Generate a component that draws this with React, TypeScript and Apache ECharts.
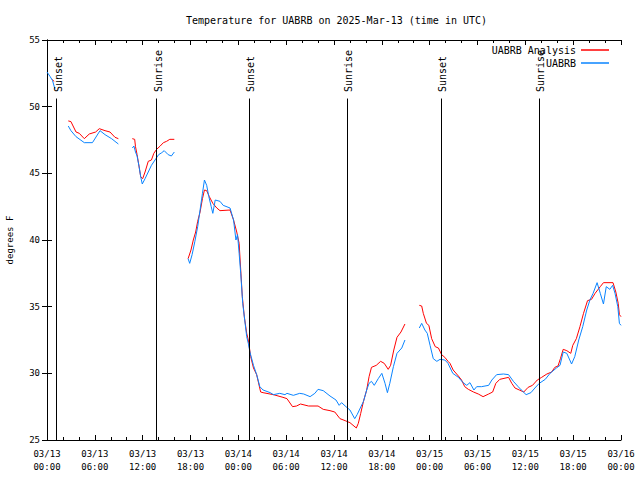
import React, { useEffect, useRef } from "react";
import * as echarts from "echarts";

// Hours since 2025-03-13 00:00 UTC; null marks a gap in the record
const analysisHours: number[] = [
  0.6, 0.9, 1.8,
  2.67, 3.0, 3.64, 4.05, 4.68, 5.3, 6.1, 6.56, 7.28, 7.9, 8.53, 8.95, 9.8,
  10.7, 11.0, 11.1, 11.3, 11.58, 11.75, 12.0, 12.3, 12.7, 13.1, 13.4, 13.75, 14.2, 14.6, 15.0, 15.4, 15.97, 16.8,
  17.7, 18.06, 18.35, 18.65, 18.9, 19.2, 19.5, 19.75, 20.03, 20.36, 20.8, 21.3, 21.7, 22.96, 23.4, 23.8, 24.1, 24.3,
  24.5, 24.75, 25.05, 25.25, 25.55, 25.9, 26.3, 26.8, 27.1, 28.4, 29.6, 30.1, 30.8, 31.3, 31.8, 32.8, 34.0, 34.65,
  35.5, 36.1, 36.75, 37.4, 38.0, 38.8, 39.05, 39.35, 39.7, 40.1, 40.4, 40.7, 41.3, 41.85, 42.3, 42.8, 43.1, 43.5,
  43.9, 44.4, 44.9, 45.8,
  46.7, 47.0, 47.2, 47.6, 47.9, 48.25, 48.7, 49.1, 49.5, 49.9, 50.3, 50.55, 50.95, 51.6, 52.0, 52.4, 52.85, 53.5,
  54.1, 54.7, 55.4, 55.9, 56.3, 56.8, 57.9, 58.3, 58.7, 59.25, 59.8, 60.35, 60.9, 61.5, 62.05, 62.7, 63.3, 63.7,
  64.1, 64.4, 64.75, 65.2, 65.7, 65.95, 66.4, 66.85, 67.3, 67.8, 68.3, 68.75, 69.4, 69.8, 71.0, 71.35, 71.65, 71.8, 72.0,
];
const analysisTemps: (number | null)[] = [
  52.05, 51.9, null,
  48.93, 48.88, 48.1, 48.0, 47.6, 47.95, 48.1, 48.35, 48.2, 48.1, 47.7, 47.6, null,
  47.6, 47.55, 47.0, 46.4, 45.4, 44.75, 44.6, 45.1, 45.9, 46.0, 46.5, 46.8, 47.05, 47.3, 47.4, 47.55, 47.55, null,
  38.6, 39.25, 40.0, 40.6, 41.4, 42.1, 43.1, 43.75, 43.7, 43.25, 42.75, 42.4, 42.2, 42.25, 41.5, 40.6, 39.75, 37.75,
  35.75, 34.25, 33.0, 32.5, 31.25, 30.4, 29.9, 28.6, 28.55, 28.4, 28.2, 28.1, 27.5, 27.55, 27.7, 27.55, 27.55, 27.3,
  27.2, 27.1, 26.6, 26.45, 26.3, 25.9, 26.25, 27.0, 27.9, 28.75, 29.75, 30.45, 30.6, 30.9, 30.75, 30.3, 30.6, 31.75,
  32.7, 33.1, 33.7, null,
  35.1, 35.05, 34.5, 33.75, 33.6, 32.6, 32.0, 31.9, 31.4, 31.2, 30.9, 30.75, 30.25, 29.8, 29.5, 29.0, 28.8, 28.6,
  28.45, 28.25, 28.45, 28.6, 29.25, 29.55, 29.7, 29.25, 28.9, 28.75, 28.6, 28.95, 29.1, 29.5, 29.7, 29.95, 30.1, 30.45,
  30.55, 31.1, 31.8, 31.7, 31.5, 32.1, 32.6, 33.5, 34.5, 35.45, 35.55, 36.0, 36.5, 36.8, 36.8, 36.1, 35.25, 34.4, 34.25,
];

const observedHours: number[] = [
  0.0, 0.4, 0.7, 1.0, 1.8,
  2.67, 3.0, 3.64, 4.68, 5.7, 6.65, 7.28, 8.1, 8.95, 9.8,
  10.7, 10.9, 11.1, 11.3, 11.55, 11.75, 11.95, 12.3, 12.7, 13.1, 13.55, 14.0, 14.4, 14.7, 15.2, 15.6, 15.97, 16.8,
  17.7, 17.9, 18.2, 18.55, 18.9, 19.2, 19.5, 19.75, 20.03, 20.3, 20.6, 20.8, 21.1, 21.7, 22.1, 22.96, 23.4, 23.7,
  23.9, 24.1, 24.3, 24.55, 24.8, 25.05, 25.25, 25.45, 25.9, 26.3, 26.7, 27.1, 28.0, 28.4, 29.2, 29.85, 30.1, 30.9,
  31.7, 32.2, 33.0, 33.6, 34.0, 34.65, 35.5, 36.25, 36.65, 36.95, 37.5, 38.0, 38.6, 38.9, 39.7, 40.1, 40.4, 40.7,
  41.05, 41.55, 42.0, 42.4, 42.7, 43.0, 43.45, 43.9, 44.5, 44.9, 45.8,
  46.7, 47.0, 47.4, 47.7, 48.05, 48.45, 48.9, 49.3, 49.9, 50.3, 50.9, 51.6, 52.2, 52.65, 53.05, 53.55, 53.9, 54.5,
  55.4, 55.8, 56.4, 57.25, 57.9, 58.5, 59.1, 59.5, 60.1, 60.7, 61.2, 61.75, 62.5, 63.1, 63.9, 64.35, 64.75, 65.2,
  65.8, 66.2, 66.7, 67.2, 67.7, 68.1, 68.5, 69.0, 69.4, 69.8, 70.15, 70.6, 70.95, 71.25, 71.6, 71.8, 72.0,
];
const observedTemps: (number | null)[] = [
  52.6, 52.25, 51.95, 51.3, null,
  48.55, 48.2, 47.75, 47.3, 47.3, 48.2, 47.9, 47.6, 47.2, null,
  46.9, 47.05, 46.6, 46.3, 45.5, 44.75, 44.2, 44.6, 45.1, 45.6, 46.0, 46.4, 46.55, 46.7, 46.4, 46.3, 46.6, null,
  38.6, 38.25, 38.9, 39.9, 41.0, 42.25, 43.5, 44.5, 44.1, 43.25, 42.5, 42.0, 43.0, 42.9, 42.6, 42.4, 41.5, 40.0,
  40.4, 39.0, 37.5, 35.25, 34.0, 32.75, 32.25, 31.6, 30.6, 29.9, 29.0, 28.75, 28.55, 28.4, 28.5, 28.4, 28.5, 28.35,
  28.5, 28.45, 28.25, 28.5, 28.8, 28.7, 28.3, 28.0, 27.6, 27.8, 27.5, 27.25, 26.6, 26.9, 27.9, 28.75, 29.25, 29.4,
  29.1, 29.6, 30.0, 29.25, 28.55, 29.25, 30.5, 31.5, 31.9, 32.5, null,
  33.4, 33.75, 33.25, 33.0, 32.1, 31.1, 30.9, 31.05, 31.0, 30.75, 30.0, 29.7, 29.3, 29.1, 29.3, 28.75, 29.0, 29.0,
  29.1, 29.5, 29.9, 29.95, 29.9, 29.4, 29.0, 28.75, 28.4, 28.55, 28.9, 29.25, 29.55, 30.0, 30.4, 30.6, 31.6, 31.5,
  30.7, 31.25, 32.5, 33.5, 34.75, 35.5, 36.0, 36.8, 36.0, 35.2, 36.5, 36.3, 36.6, 36.0, 35.0, 33.75, 33.6,
];

const sunEventHours: number[] = [1.22, 13.76, 25.38, 37.67, 49.46, 61.75];
const sunEventNames: string[] = ["Sunset", "Sunrise", "Sunset", "Sunrise", "Sunset", "Sunrise"];

const seriesNames: string[] = ["UABRB Analysis", "UABRB"];
const seriesColors: string[] = ["#ff0000", "#0a84ff"];

const MONO = "'DejaVu Sans Mono', monospace";
const LINE_TOP_T = 50.61; // temperature level where the event lines begin
const LABEL_BASE_T = 51.1; // temperature level where event labels start

function pairs(hours: number[], temps: (number | null)[]) {
  return hours.map((h, i) => [h, temps[i] === null ? "-" : temps[i]]);
}

function fmtTime(v: number) {
  const day = 13 + Math.floor(v / 24);
  const hh = v % 24;
  return `03/${day}\n${String(hh).padStart(2, "0")}:00`;
}

export default function App() {
  const ref = useRef<HTMLDivElement>(null);
  useEffect(() => {
    if (!ref.current) return;
    const chart = echarts.init(ref.current, null, { renderer: "svg" });
    const axisCommon = {
      axisLine: { show: true, lineStyle: { color: "#000", width: 1 } },
      splitLine: { show: false },
    };
    chart.setOption({
      animation: false,
      backgroundColor: "#fff",
      textStyle: { fontFamily: MONO },
      title: {
        text: "Temperature for UABRB on 2025-Mar-13 (time in UTC)",
        left: 181,
        top: 10,
        textStyle: { fontFamily: MONO, fontSize: 10, fontWeight: "normal", color: "#000" },
      },
      legend: [0, 1].map((i) => ({
        data: [seriesNames[i]],
        right: 31,
        top: 45 + i * 13,
        padding: 0,
        align: "right",
        icon: "rect",
        itemWidth: 28,
        itemHeight: 1.5,
        textStyle: { fontFamily: MONO, fontSize: 10, color: "#000" },
      })),
      grid: {
        left: 47,
        right: 19,
        top: 40,
        bottom: 40,
        show: false,
        containLabel: false,
        outerBoundsMode: "none",
      },
      xAxis: [
        {
          type: "value",
          min: 0,
          max: 72,
          interval: 6,
          position: "bottom",
          ...axisCommon,
          axisTick: { show: true, inside: true, length: 5, lineStyle: { color: "#000" } },
          minorTick: { show: true, splitNumber: 3, length: 3, lineStyle: { color: "#000" } },
          axisLabel: {
            formatter: fmtTime,
            fontFamily: MONO,
            fontSize: 9,
            color: "#000",
            lineHeight: 13,
            margin: 7,
          },
        },
        {
          type: "value",
          min: 0,
          max: 72,
          interval: 6,
          position: "top",
          ...axisCommon,
          axisTick: { show: true, inside: true, length: 5, lineStyle: { color: "#000" } },
          minorTick: { show: true, splitNumber: 3, length: 3, lineStyle: { color: "#000" } },
          axisLabel: { show: false },
        },
      ],
      yAxis: [
        {
          type: "value",
          min: 25,
          max: 55,
          interval: 5,
          position: "left",
          ...axisCommon,
          name: "degrees F",
          nameLocation: "middle",
          nameGap: 33,
          nameRotate: 90,
          nameTextStyle: { fontFamily: MONO, fontSize: 9, color: "#000" },
          axisTick: { show: true, inside: true, length: 5, lineStyle: { color: "#000" } },
          axisLabel: { fontFamily: MONO, fontSize: 9, color: "#000", margin: 7 },
        },
        {
          type: "value",
          min: 25,
          max: 55,
          interval: 5,
          position: "right",
          ...axisCommon,
          axisTick: { show: true, inside: true, length: 5, lineStyle: { color: "#000" } },
          axisLabel: { show: false },
        },
      ],
      series: [
        {
          name: seriesNames[0],
          type: "line",
          xAxisIndex: 0,
          yAxisIndex: 0,
          data: pairs(analysisHours, analysisTemps),
          showSymbol: false,
          connectNulls: false,
          color: seriesColors[0],
          lineStyle: { width: 1, color: seriesColors[0] },
          z: 3,
          markLine: {
            silent: true,
            symbol: "none",
            animation: false,
            label: { show: false },
            lineStyle: { color: "#000", width: 1, type: "solid" },
            data: sunEventHours.map((h) => [
              { coord: [h, LINE_TOP_T] },
              { coord: [h, 25] },
            ]),
          },
        },
        {
          name: seriesNames[1],
          type: "line",
          xAxisIndex: 0,
          yAxisIndex: 0,
          data: pairs(observedHours, observedTemps),
          showSymbol: false,
          connectNulls: false,
          color: seriesColors[1],
          lineStyle: { width: 1, color: seriesColors[1] },
          z: 4,
          markPoint: {
            silent: true,
            symbol: "circle",
            symbolSize: 0,
            animation: false,
            label: {
              show: true,
              position: "inside",
              rotate: 90,
              align: "left",
              verticalAlign: "middle",
              offset: [0, 1.5],
              fontFamily: MONO,
              fontSize: 10,
              color: "#000",
              formatter: (p: any) => p.name,
            },
            data: sunEventHours.map((h, i) => ({
              name: sunEventNames[i],
              coord: [h, LABEL_BASE_T],
            })),
          },
        },
      ],
    });
    return () => chart.dispose();
  }, []);
  return (
    <div
      ref={ref}
      style={{ position: "absolute", left: 0, top: 0, width: 640, height: 480 }}
    />
  );
}
